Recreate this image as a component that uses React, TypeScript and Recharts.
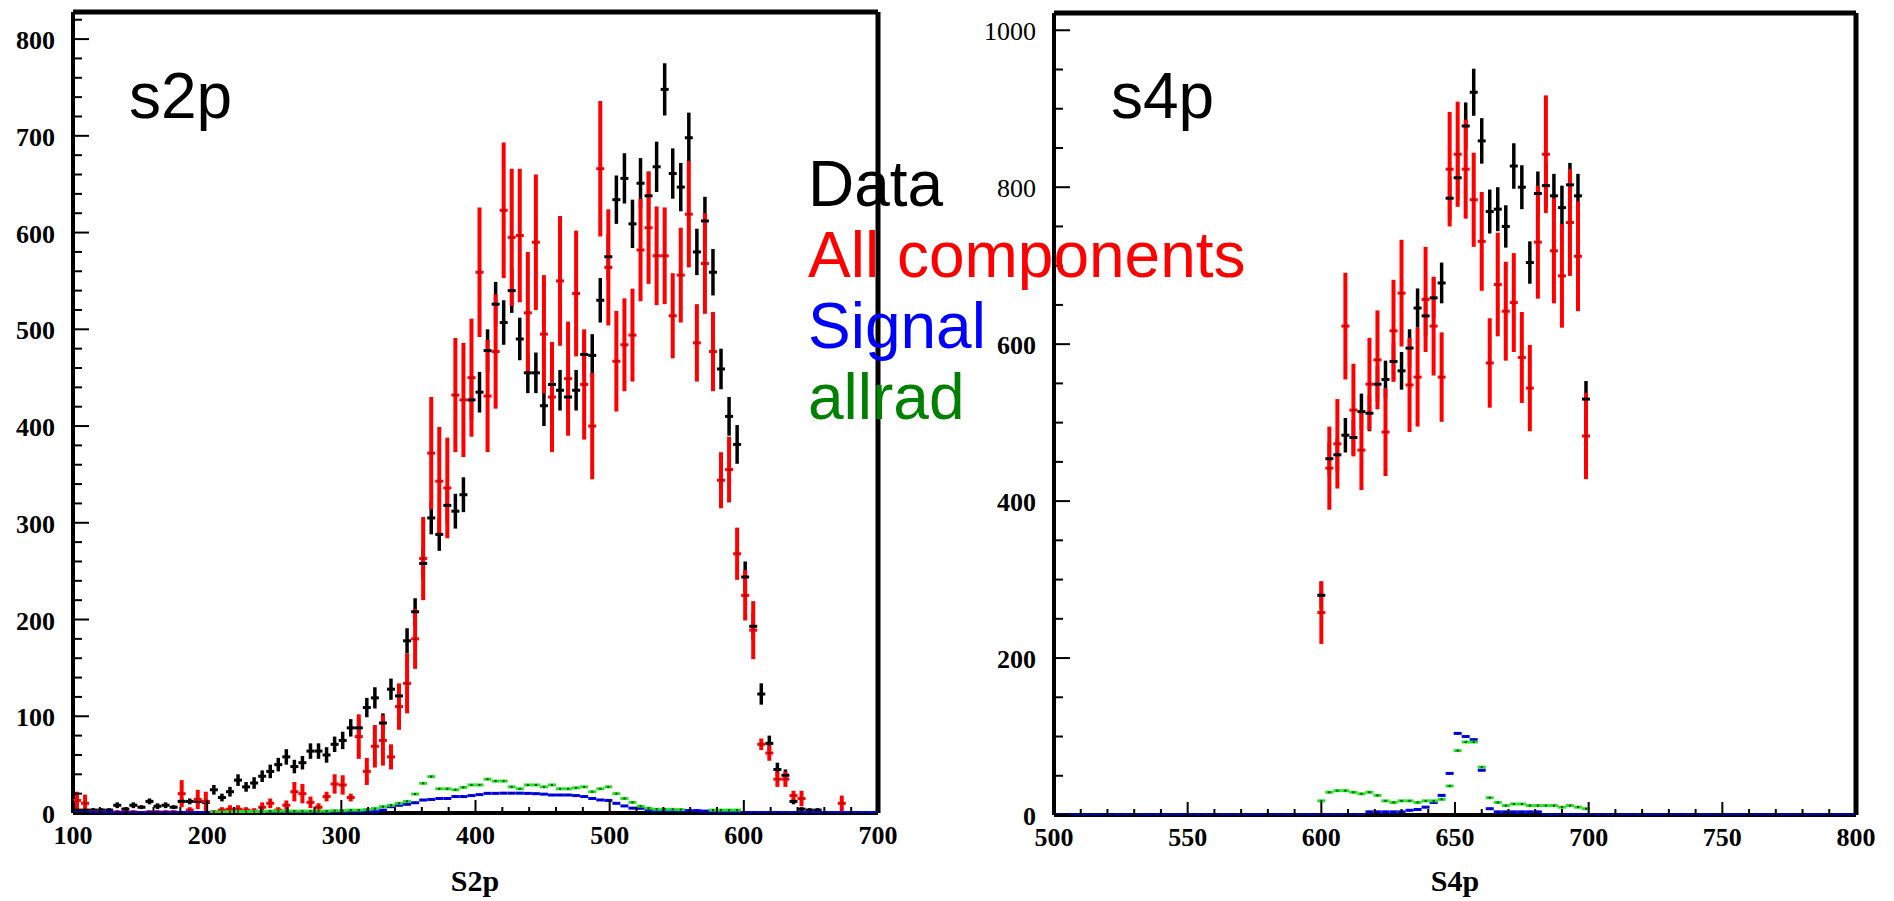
import React from "react";
import { ScatterChart, Scatter, XAxis, YAxis, ErrorBar, ReferenceLine } from "recharts";

// ---- s2p: 100 bins over [100, 700] ----
const s2pLo = 100;
const s2pBinWidth = 6;

const s2pData = [
  3, 3, 3, 3, 3, 8, 4, 8, 6, 12, 7, 8, 6, 12, 12, 12, 11, 24, 16, 22,
  34, 27, 31, 38, 43, 50, 58, 48, 52, 64, 64, 60, 71, 75, 88, 88, 109, 119, 93, 128,
  121, 178, 208, 258, 305, 288, 318, 312, 329, 427, 435, 478, 526, 507, 540, 490, 455, 455, 421, 443,
  437, 430, 437, 474, 473, 530, 575, 634, 656, 609, 651, 638, 668, 748, 661, 647, 698, 580, 612, 559,
  459, 410, 381, 244, 193, 123, 72, 45, 39, 12, 4, 3, 3,
];
const s2pDataErr = [
  2, 2, 2, 2, 2, 3, 2, 3, 2, 3, 3, 3, 2, 3, 3, 3, 3, 5, 4, 5,
  6, 5, 6, 6, 7, 7, 8, 7, 7, 8, 8, 8, 8, 9, 9, 9, 10, 11, 10, 11,
  11, 13, 14, 16, 17, 17, 18, 18, 18, 21, 21, 22, 23, 23, 23, 22, 21, 21, 21, 21,
  21, 21, 21, 22, 22, 23, 24, 25, 26, 25, 26, 25, 26, 27, 26, 25, 26, 24, 25, 24,
  21, 20, 20, 16, 14, 11, 8, 7, 6, 3, 2, 2, 2,
];
const s2pAll = [
  13, 10, 1, 1, 0, 1, 1, 1, 0, 1, 1, 1, 1, 20, 3, 14, 12, 1, 3, 4,
  4, 3, 2, 6, 10, 3, 8, 22, 20, 11, 6, 17, 30, 29, 16, 79, 43, 69, 75, 58,
  110, 134, 180, 263, 372, 343, 336, 432, 427, 450, 559, 431, 477, 623, 595, 597, 517, 590, 495, 430,
  550, 449, 537, 443, 400, 666, 564, 467, 484, 494, 582, 605, 576, 576, 514, 556, 619, 486, 568, 477,
  344, 355, 268, 225, 189, 71, 62, 35, 35, 18, 15, null, null, null, null, 10, null, null, null, null,
];
const s2pAllErr = [
  9, 9, 2, 2, 1, 2, 2, 2, 1, 2, 2, 2, 2, 14, 3, 10, 10, 2, 3, 4,
  4, 3, 3, 5, 5, 3, 5, 10, 10, 6, 4, 5, 10, 10, 4, 23, 14, 22, 26, 13,
  24, 31, 31, 43, 58, 56, 52, 59, 59, 61, 67, 58, 59, 70, 71, 69, 63, 70, 61, 57,
  67, 59, 65, 57, 55, 70, 60, 52, 48, 48, 53, 58, 51, 50, 44, 49, 55, 40, 52, 41,
  29, 34, 27, 26, 30, 6, 8, 8, 8, 5, 8, 0, 0, 0, 0, 8, 0, 0, 0, 0,
];
const s2pSignal = [
  0.5, 0.5, 0.5, 0.5, 0.5, 0.5, 0.5, 0.5, 0.5, 0.5, 0.5, 0.5, 0.5, 0.5, 0.5, 0.5, 0.5, 0.5, 0.5, 0.5,
  0.5, 0.5, 0.5, 0.5, 0.5, 0.5, 0.5, 0.5, 0.5, 0.5, 0.5, 0.5, 0.5, 0.5, 0.7, 0.8, 1, 1.4, 3, 6.5,
  8, 9, 10.6, 13.4, 14, 15, 15, 17, 17, 18, 19, 20.3, 20.3, 20.5, 20.5, 20.5, 20.3, 20, 19.5, 18.6,
  18.6, 18.6, 18, 17, 15, 13.5, 13, 10, 7.3, 5, 4.9, 3, 2.5, 2.5, 2.5, 2.5, 2.5, 2.5, 2, 0.5,
  0.5, 0.5, 0.5, 0.5, 0.5, 0.5, 0.5, 0.5, 0.5, 0.5, 0.5, 0.5, 0.5, 0.5, 0.5, 0.5, 0.5, 0.5, 0.5, 0.5,
];
const s2pAllrad = [
  null, null, null, null, null, null, null, null, null, null, null, null, null, null, null, null, null, 1, 1, 1,
  1.5, 1.5, 1.5, 1.5, 2, 2, 2, 2, 2, 2, 2, 2, 2.4, 2.4, 3, 3, 3.5, 4.5, 6.5, 8,
  10, 12, 19.6, 30.7, 37.6, 25, 25, 24, 26.5, 29, 29, 35, 33, 33, 27, 25, 29, 29, 27, 29,
  25, 25, 26, 27, 22, 25, 27, 20, 15, 11, 7, 5, 3.8, 3.8, 3.8, 3.5, null, null, null, 3,
  3, 3, 3, null, null, null, null, null, null, null, null, null, null, null, null, null, null, null, null, null,
];

// ---- s4p: 100 bins centred 501 .. 798, data present from 600 to 699 ----
const s4pLo = 499.5;
const s4pBinWidth = 3;
const s4pFirstFilled = 33; // bin centred on 600

const s4pData = [
  280, 454, 459, 484, 481, 514, 512, 549, 555, 578, 566, 595, 646, 636, 659, 678, 786,
  812, 878, 921, 859, 769, 772, 750, 827, 800, 704, 792, 802, 789, 774, 803, 789, 530,
];
const s4pDataErr = [
  17, 21, 21, 22, 22, 23, 23, 23, 24, 24, 24, 24, 25, 25, 26, 26, 28,
  28, 30, 30, 29, 28, 28, 27, 29, 28, 27, 28, 28, 28, 28, 28, 28, 23,
];
const s4pAll = [
  258, 442, 473, 623, 516, 465, 549, 580, 488, 617, 665, 548, 558, 657, 623, 558, 823,
  842, 823, 784, 731, 576, 676, 642, 653, 583, 544, 730, 842, 719, 687, 755, 712, 483,
];
const s4pAllErr = [
  40, 53, 57, 68, 59, 51, 59, 63, 56, 65, 68, 60, 63, 67, 63, 57, 73,
  67, 63, 60, 63, 57, 66, 63, 63, 58, 55, 72, 75, 67, 66, 68, 70, 55,
];
const s4pAllrad = [
  18, 29, 31, 31, 29, 27, 29, 25, 18, 16, 18, 18, 16, 18, 18, 20, 37,
  82, 93, 93, 61, 22, 16, 12, 14, 14, 12, 12, 12, 12, 10, 12, 10, 8,
];
const s4pSignal = [
  0, 0, 0, 0, 0, 0, 0, 0, 0, 0, 0, 0, 0, 0, 0, 0, 0, 0, 0, 0,
  0, 0, 0, 0, 0, 0, 0, 0, 0, 0, 0, 0, 0,
  0, 0, 0, 0, 0, 0, 4, 4, 4, 4, 4, 6, 7, 10, 16, 25, 53,
  104, 100, 96, 57, 8, 4, 4, 4, 4, 4, 4, 0, 0, 0, 0, 0, 0,
  0, 0, 0, 0, 0, 0, 0, 0, 0, 0, 0, 0, 0, 0, 0, 0, 0, 0, 0, 0,
  0, 0, 0, 0, 0, 0, 0, 0, 0, 0, 0, 0, 0,
];

// axis ticks
const s2pXTicks = [100, 200, 300, 400, 500, 600, 700];
const s2pYTicks = [0, 100, 200, 300, 400, 500, 600, 700, 800];
const s4pXTicks = [500, 550, 600, 650, 700, 750, 800];
const s4pYTicks = [0, 200, 400, 600, 800, 1000];
const s4pLightLabels = [800, 1000];

const legendItems = [
  { label: "Data", color: "#000000" },
  { label: "All components", color: "#ff0000" },
  { label: "Signal", color: "#0000ff" },
  { label: "allrad", color: "#008000" },
];

type Pt = { x: number; y: number; err: number };

const center = (lo: number, w: number, i: number) => lo + w * (i + 0.5);

function points(lo: number, w: number, offset: number, ys: (number | null)[], errs?: number[]): Pt[] {
  const out: Pt[] = [];
  ys.forEach((y, i) => {
    if (y === null || y === undefined) return;
    out.push({ x: center(lo, w, i + offset), y, err: errs ? errs[i] : 0 });
  });
  return out;
}

function withMinor(major: number[], step: number, max: number) {
  const out: number[] = [];
  for (let v = major[0]; v <= max + 1e-9; v += step) out.push(v);
  return out;
}

const serif = "'Liberation Serif', 'Times New Roman', serif";
const sans = "'Liberation Sans', Arial, sans-serif";

function yTick(major: number[], light: number[] = []) {
  return (p: any) => {
    const v = p.payload.value;
    const isMajor = major.includes(v);
    return (
      <g>
        <line x1={p.x} x2={p.x + (isMajor ? 16 : 9)} y1={p.y} y2={p.y} stroke="#000" strokeWidth={2} />
        {isMajor && (
          <text
            x={p.x - 18}
            y={p.y + 10}
            textAnchor="end"
            fontFamily={serif}
            fontSize={26}
            fontWeight={light.includes(v) ? 400 : 700}
            fill="#000"
          >
            {v}
          </text>
        )}
      </g>
    );
  };
}

function xTick(major: number[]) {
  return (p: any) => {
    const v = p.payload.value;
    const isMajor = major.includes(v);
    return (
      <g>
        <line x1={p.x} x2={p.x} y1={p.y} y2={p.y - (isMajor ? 13 : 6)} stroke="#000" strokeWidth={2} />
        {isMajor && (
          <text x={p.x} y={p.y + 31} textAnchor="middle" fontFamily={serif} fontSize={26} fontWeight={700} fill="#000">
            {v}
          </text>
        )}
      </g>
    );
  };
}

const binMark = (fill: string, dot: string | null, h = 3) => (p: any) => (
  <g>
    <rect x={p.cx - 4} y={p.cy - h / 2} width={8} height={h} fill={fill} />
    {dot && <rect x={p.cx - 1} y={p.cy - 1} width={2} height={2} fill={dot} />}
  </g>
);

type PanelProps = {
  width: number;
  height: number;
  margin: { top: number; right: number; bottom: number; left: number };
  yAxisWidth: number;
  xAxisHeight: number;
  xDomain: [number, number];
  yDomain: [number, number];
  xTicks: number[];
  xMinor: number;
  yTicks: number[];
  yMinor: number;
  lightLabels?: number[];
  data: Pt[];
  all: Pt[];
  signal: Pt[];
  allrad: Pt[];
};

function Panel(props: PanelProps) {
  const { xDomain, yDomain } = props;
  return (
    <ScatterChart width={props.width} height={props.height} margin={props.margin}>
      <XAxis
        type="number"
        dataKey="x"
        domain={xDomain}
        allowDataOverflow
        ticks={withMinor(props.xTicks, props.xMinor, xDomain[1])}
        interval={0}
        tickLine={false}
        tickSize={0}
        tickMargin={0}
        height={props.xAxisHeight}
        axisLine={{ stroke: "#000", strokeWidth: 4 }}
        tick={xTick(props.xTicks)}
      />
      <YAxis
        type="number"
        dataKey="y"
        domain={yDomain}
        allowDataOverflow
        ticks={withMinor(props.yTicks, props.yMinor, yDomain[1])}
        interval={0}
        tickLine={false}
        tickSize={0}
        tickMargin={0}
        width={props.yAxisWidth}
        axisLine={{ stroke: "#000", strokeWidth: 4 }}
        tick={yTick(props.yTicks, props.lightLabels)}
      />
      <ReferenceLine y={yDomain[1]} stroke="#000" strokeWidth={5} />
      <ReferenceLine x={xDomain[1]} stroke="#000" strokeWidth={5} />
      <Scatter data={props.data} fill="#000" shape={binMark("#000", null)} isAnimationActive={false}>
        <ErrorBar dataKey="err" direction="y" width={0} stroke="#000" strokeWidth={3.5} isAnimationActive={false} />
      </Scatter>
      <Scatter data={props.all} fill="#ff0000" shape={binMark("#ff0000", "#7a0000")} isAnimationActive={false}>
        <ErrorBar dataKey="err" direction="y" width={0} stroke="#ff0000" strokeWidth={4} isAnimationActive={false} />
      </Scatter>
      <Scatter data={props.signal} fill="#0000ff" shape={binMark("#0000ff", "#000060")} isAnimationActive={false} />
      <Scatter data={props.allrad} fill="#22e022" shape={binMark("#22e022", "#104010")} isAnimationActive={false} />
    </ScatterChart>
  );
}

export default function App() {
  const s2p = {
    data: points(s2pLo, s2pBinWidth, 0, s2pData, s2pDataErr),
    all: points(s2pLo, s2pBinWidth, 0, s2pAll, s2pAllErr),
    signal: points(s2pLo, s2pBinWidth, 0, s2pSignal),
    allrad: points(s2pLo, s2pBinWidth, 0, s2pAllrad),
  };
  const s4p = {
    data: points(s4pLo, s4pBinWidth, s4pFirstFilled, s4pData, s4pDataErr),
    all: points(s4pLo, s4pBinWidth, s4pFirstFilled, s4pAll, s4pAllErr),
    signal: points(s4pLo, s4pBinWidth, 0, s4pSignal),
    allrad: points(s4pLo, s4pBinWidth, s4pFirstFilled, s4pAllrad),
  };

  return (
    <div style={{ position: "absolute", left: 0, top: 0, width: 1894, height: 901, background: "#fff", overflow: "hidden" }}>
      <div style={{ position: "absolute", left: 0, top: 0 }}>
        <Panel
          width={900}
          height={901}
          margin={{ top: 12, right: 22, bottom: 0, left: 0 }}
          yAxisWidth={73}
          xAxisHeight={88}
          xDomain={[100, 700]}
          yDomain={[0, 828]}
          xTicks={s2pXTicks}
          xMinor={20}
          yTicks={s2pYTicks}
          yMinor={20}
          {...s2p}
        />
      </div>
      <div style={{ position: "absolute", left: 950, top: 0 }}>
        <Panel
          width={944}
          height={901}
          margin={{ top: 13, right: 38, bottom: 0, left: 0 }}
          yAxisWidth={104}
          xAxisHeight={86}
          xDomain={[500, 800]}
          yDomain={[0, 1022]}
          xTicks={s4pXTicks}
          xMinor={10}
          yTicks={s4pYTicks}
          yMinor={50}
          lightLabels={s4pLightLabels}
          {...s4p}
        />
      </div>
      <svg width={1894} height={901} style={{ position: "absolute", left: 0, top: 0, pointerEvents: "none" }}>
        <text x={129} y={118} fontFamily={sans} fontSize={64} fill="#000">s2p</text>
        <text x={1111} y={118} fontFamily={sans} fontSize={64} fill="#000">s4p</text>
        {legendItems.map((it, i) => (
          <text key={it.label} x={808} y={206 + i * 71} fontFamily={sans} fontSize={64} fill={it.color}>
            {it.label}
          </text>
        ))}
        <text x={475} y={891} textAnchor="middle" fontFamily={serif} fontSize={30} fontWeight={700} fill="#000">S2p</text>
        <text x={1455} y={891} textAnchor="middle" fontFamily={serif} fontSize={30} fontWeight={700} fill="#000">S4p</text>
      </svg>
    </div>
  );
}
